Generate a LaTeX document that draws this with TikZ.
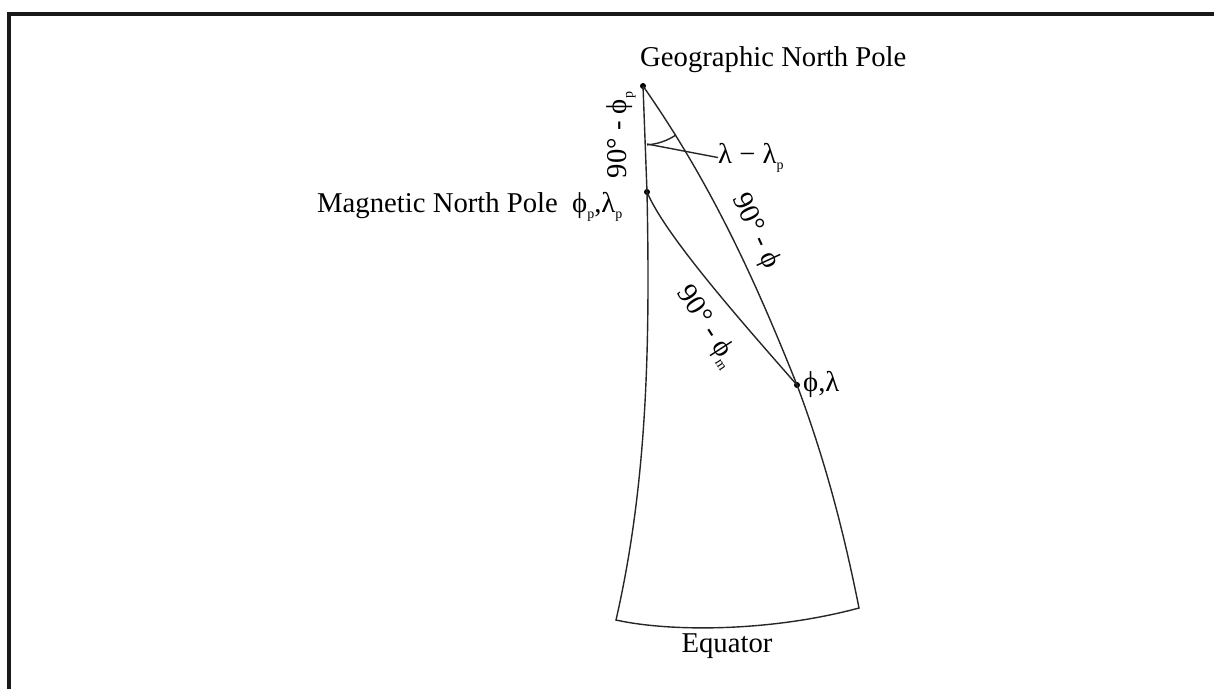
\documentclass[tikz,border=0pt]{standalone}
\usepackage{fontspec}
\setmainfont{Liberation Serif}
\newcommand{\lsub}[1]{\raisebox{-0.22em}{\fontsize{14}{14}\selectfont #1}}
\begin{document}
\begin{tikzpicture}[x=1pt,y=-1pt,
  lbl/.style={font=\fontsize{28.7}{30}\selectfont, inner sep=0pt},
  curve/.style={line width=1.4pt, black!85},
  pole/.style={circle, fill=black, inner sep=0pt, minimum size=6pt}]
\useasboundingbox (0,0) rectangle (1214,689);
\draw[line width=3.2pt, black!90] (1214,14) -- (9,14) -- (9,689);
\node[pole] (G) at (643,86) {};
\node[pole] (M) at (647,192) {};
\node[pole] (P) at (797,385) {};
\coordinate (BL) at (616,620);
\coordinate (BR) at (859,608);
\draw[curve] (G.center) -- (M.center) .. controls (650,340) and (648,480) .. (BL)
  .. controls (670,632) and (770,632) .. (BR)
  .. controls (845,538) and (827,465) .. (P.center)
  .. controls (757,285) and (713,186) .. (G.center);
\draw[curve] (M.center) .. controls (665,235) and (740,320) .. (P.center);
\draw[curve] (G.center) ++(86:59) arc[start angle=86, end angle=56, radius=59];
\coordinate (L1) at (647,144);
\node[lbl, anchor=base west] (lam) at (718,163) {λ − λ\lsub{p}};
\draw[curve] (L1) -- (lam.west);
\node[lbl, anchor=base west] (gnp) at (640,66) {Geographic North Pole};
\node[lbl, anchor=base west] (mnp) at (317,212) {Magnetic North Pole};
\node[lbl, anchor=base west] (mc) at (572,212) {ϕ\lsub{p},λ\lsub{p}};
\node[lbl, anchor=base west] (pc) at (803,391) {ϕ,λ};
\node[lbl, anchor=base] (eq) at (727,652) {Equator};
\node[lbl, rotate=90] (a1) at (621,135) {90° - ϕ\lsub{p}};
\node[lbl, rotate=-65] (a2) at (755,231) {90° - ϕ};
\node[lbl, rotate=-57] (a3) at (707,327) {90° - ϕ\lsub{m}};
\end{tikzpicture}
\end{document}
